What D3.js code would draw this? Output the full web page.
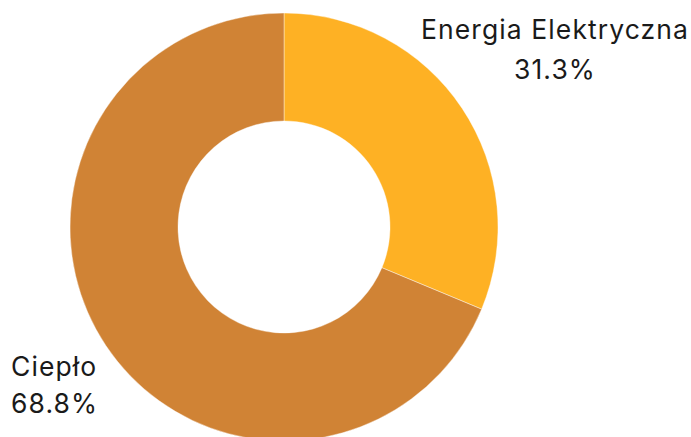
<!DOCTYPE html>
<html>
<head>
<meta charset="utf-8">
<script src="https://cdn.jsdelivr.net/npm/d3@7/dist/d3.min.js"></script>
<style>
  html, body { margin: 0; padding: 0; background: #fff; }
  svg { display: block; }
  text { font-family: Inter, "Open Sans", sans-serif; fill: #1a1a1a; }
</style>
</head>
<body>
<svg id="chart" width="691" height="437"></svg>
<script>
// Energy share by type
const categories = ["Energia Elektryczna", "Ciepło"];
const values = [31.3, 68.8];
const colors = ["#FEB124", "#D08335"];

const width = 691, height = 437;
const cx = 284, cy = 227;
const outerR = 214, innerR = 106;

const svg = d3.select("#chart");

const pie = d3.pie().sort(null).value(d => d.value);
const arc = d3.arc().innerRadius(innerR).outerRadius(outerR);

const data = categories.map((c, i) => ({ name: c, value: values[i], color: colors[i] }));
const arcs = pie(data);

const g = svg.append("g").attr("transform", `translate(${cx},${cy})`);
g.selectAll("path")
  .data(arcs)
  .join("path")
  .attr("d", arc)
  .attr("fill", d => d.data.color)
  .attr("stroke", "#fff")
  .attr("stroke-opacity", 0.4)
  .attr("stroke-width", 1);

// Labels
const labels = [
  { anchor: "middle", x: 555, y1: 39, y2: 79 },
  { anchor: "start", x: 11, y1: 376, y2: 413 }
];
arcs.forEach((a, i) => {
  const l = labels[i];
  const t = svg.append("text")
    .attr("text-anchor", l.anchor)
    .style("font-size", "26.5px")
    .style("letter-spacing", "1.1px");
  t.append("tspan").attr("x", l.x).attr("y", l.y1).text(a.data.name);
  t.append("tspan").attr("x", l.x).attr("y", l.y2).text(d3.format(".1f")(a.data.value) + "%");
});
</script>
</body>
</html>
